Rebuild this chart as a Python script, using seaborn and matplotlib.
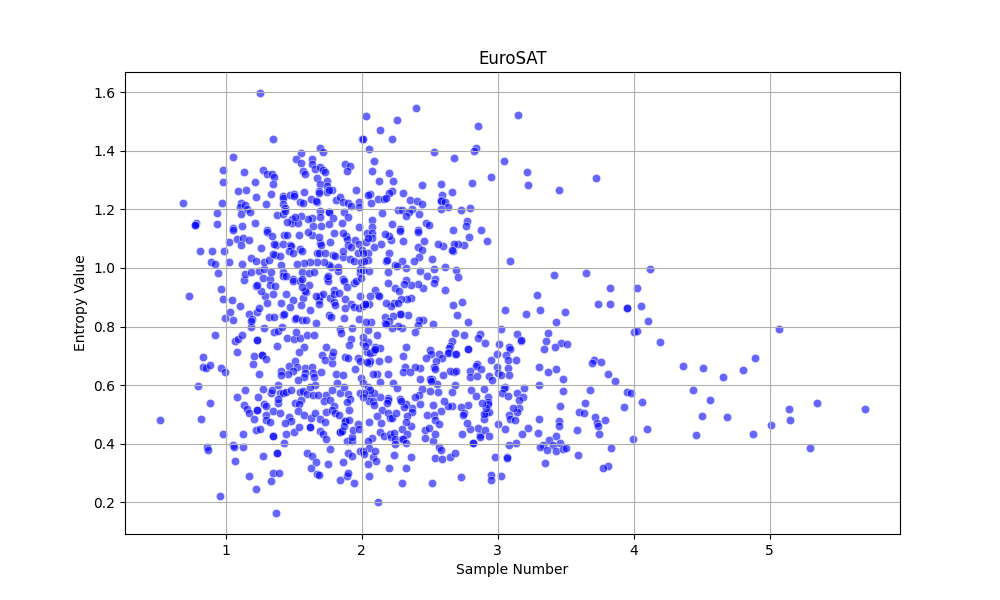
import matplotlib
matplotlib.use("Agg")
import matplotlib.pyplot as plt
import pandas as pd
import seaborn as sns

# (sample number, entropy value), region by region
top_left = [
    (1.255,1.597),(1.35,1.44),(1.056,1.378),(0.985,1.334),(1.137,1.327),(0.985,1.293),(1.277,1.334),(1.306,1.32),
    (1.338,1.32),(1.353,1.31),(1.218,1.293),(1.346,1.286),(1.093,1.262),(1.152,1.266),(1.336,1.252),(1.225,1.242),
    (0.689,1.222),(0.975,1.222),(1.299,1.218),(1.115,1.222),(1.103,1.208),(1.145,1.215),(1.16,1.201),(1.115,1.184),
    (1.181,1.191),(0.934,1.187),(0.782,1.153),(0.777,1.148),(0.777,1.148),(0.939,1.15),(1.056,1.136),(1.123,1.143),
    (1.218,1.153),(1.306,1.13),(1.419,1.244),(1.419,1.24),(1.473,1.249),(1.505,1.252),(1.505,1.245),(1.578,1.259),
    (1.419,1.218),(1.439,1.205),(1.382,1.181),(1.426,1.184),(1.439,1.193),(1.551,1.225),(1.566,1.222),(1.625,1.235),
    (1.669,1.225),(1.662,1.228),(1.691,1.194),(1.696,1.174),(1.757,1.191),(1.757,1.19),(1.814,1.232),(1.843,1.242),
    (1.865,1.225),(1.9,1.222),(1.924,1.213),(1.983,1.225),(1.983,1.208),(1.873,1.191),(1.897,1.174),
    (1.789,1.17),(1.853,1.153),(1.757,1.15),(1.637,1.17),(1.608,1.167),(1.556,1.177),(1.49,1.167),(1.49,1.153),
    (1.534,1.153),(1.512,1.174),(1.449,1.157),(1.645,1.143),(1.703,1.143),(1.983,1.14),(1.556,1.392),(1.696,1.409),
    (1.718,1.395),(1.52,1.372),(1.556,1.358),(1.637,1.372),(1.637,1.355),(1.571,1.331),(1.586,1.32),(1.659,1.337),
    (1.691,1.344),(1.718,1.334),(1.733,1.327),(1.676,1.307),(1.748,1.297),(1.696,1.286),(1.748,1.28),(1.684,1.262),
    (1.689,1.256),(1.748,1.259),(1.784,1.266),(1.762,1.266),(1.88,1.355),(1.917,1.348),(1.895,1.331),(1.961,1.266),
    (2.005,1.441),(2.007,1.441),(2.03,1.518),(2.056,1.406),
]

top_right = [
    (2.397,1.545),(2.257,1.505),(2.132,1.47),(2.221,1.44),(2.088,1.365),(2.074,1.331),(2.199,1.324),(2.125,1.297),
    (2.228,1.297),(2.532,1.395),(2.676,1.375),(2.838,1.41),(2.824,1.399),(2.853,1.484),(3.147,1.522),(3.044,1.365),
    (3.216,1.327),(3.221,1.283),(3.449,1.266),(3.721,1.307),(2.949,1.31),(2.809,1.29),(2.441,1.283),(2.581,1.286),
    (2.664,1.259),(2.301,1.256),(2.588,1.249),(2.581,1.232),(2.581,1.23),(2.61,1.225),(2.632,1.209),(2.581,1.201),
    (2.353,1.232),(2.404,1.228),(2.441,1.218),(2.221,1.262),(2.199,1.256),(2.059,1.252),(2.044,1.249),(2.066,1.222),
    (2.118,1.235),(2.162,1.235),(2.176,1.239),(2.265,1.198),(2.294,1.198),(2.368,1.201),(2.346,1.191),(2.324,1.177),
    (2.419,1.184),(2.147,1.187),(2.074,1.164),(2.074,1.14),(2.221,1.15),(2.279,1.133),(2.471,1.153),(2.493,1.148),
    (2.412,1.13),(2.728,1.198),(2.794,1.205),(2.772,1.161),(2.765,1.142),(2.669,1.13),(2.875,1.13),
]

middle_left = [
    (0.733,0.905),(0.814,1.058),(0.902,1.058),(0.99,1.058),(0.895,1.02),(0.924,1.014),(1.027,1.02),(0.946,0.983),
    (0.968,0.928),(0.983,0.894),(1.049,0.891),(1.034,0.85),(1.108,0.87),(0.998,0.83),(1.056,0.823),(0.924,0.772),
    (1.071,0.751),(1.093,0.758),(1.123,0.772),(1.086,0.714),(0.836,0.697),(0.968,0.659),(0.998,0.645),(0.836,0.663),
    (0.858,0.659),(0.887,0.669),(1.211,0.7),(1.27,0.703),(1.27,0.703),(1.299,0.69),(1.203,0.673),(1.248,0.639),
    (1.233,0.755),(1.233,0.755),(1.38,0.734),(1.189,0.799),(1.284,0.795),(1.358,0.782),(1.387,0.785),(1.417,0.799),
    (1.453,0.761),(1.505,0.758),(1.549,0.761),(1.52,0.782),(1.6,0.772),(1.652,0.772),(1.578,0.731),(1.542,0.714),
    (1.74,0.731),(1.711,0.703),(1.733,0.686),(1.784,0.676),(1.784,0.7),(1.792,0.714),(1.838,0.792),(1.85,0.778),
    (1.931,0.795),(1.924,0.758),(1.909,0.737),(2.012,0.744),(1.88,0.697),
    (1.902,0.693),(1.975,0.693),(1.99,0.683),(2.042,0.714),(2.056,0.676),(1.953,0.656),(1.998,0.625),(1.409,0.649),
    (1.468,0.666),(1.512,0.683),(1.527,0.663),(1.498,0.649),(1.461,0.639),(1.409,0.635),(1.586,0.659),(1.586,0.642),
    (1.637,0.663),(1.645,0.642),(1.703,0.645),(1.578,0.628),(1.652,0.628),(1.814,0.639),(1.865,0.635),(1.174,0.843),
    (1.233,0.85),(1.196,0.826),(1.189,0.819),(1.248,0.864),(1.321,0.833),(1.358,0.833),(1.424,0.84),(1.431,0.843),
    (1.512,0.826),(1.52,0.83),(1.564,0.823),(1.593,0.823),(1.667,0.812),(1.762,0.84),(1.777,0.833),(1.873,0.83),
    (1.983,0.826),(1.292,0.905),(1.262,0.922),(1.225,0.939),(1.233,0.942),(1.277,0.966),(1.328,0.963),
    (1.326,0.942),(1.365,0.939),(1.35,0.911),(1.137,0.959),(1.145,0.98),(1.189,0.986),(1.248,0.99),(1.284,0.997),
    (1.336,0.986),(1.306,0.881),(1.409,0.881),(1.446,0.911),(1.498,0.891),(1.475,0.867),(1.571,0.898),(1.556,0.874),
    (1.623,0.857),(1.593,0.918),(1.696,0.905),(1.718,0.911),(1.689,0.891),(1.689,0.877),(1.667,0.905),(1.77,0.898),
    (1.799,0.925),(1.799,0.911),(1.799,0.884),(1.806,0.874),(1.836,0.915),(1.88,0.894),(1.88,0.864),(1.924,0.877),
    (1.946,0.867),(1.983,0.864),(2.012,0.87),(2.056,0.877),(1.99,0.905),(1.424,0.986),(1.424,0.973),
    (1.446,0.973),(1.498,0.963),(1.498,0.956),(1.549,0.956),(1.564,0.986),(1.564,0.963),(1.615,0.983),(1.652,0.986),
    (1.615,0.942),(1.586,0.922),(1.564,0.935),(1.748,0.966),(1.755,0.956),(1.755,0.973),(1.828,0.99),(1.865,0.963),
    (1.873,0.956),(1.895,0.935),(1.946,0.949),(1.961,0.956),(1.99,0.983),(1.777,1.003),(1.762,1.01),(1.828,1.003),
    (1.725,1.02),(1.674,1.02),(1.623,1.02),(1.578,1.017),(1.527,1.014),(1.409,1.01),(1.123,1.014),(1.189,1.034),
    (1.225,1.024),(1.284,1.02),(1.321,1.027),(1.365,1.044),(1.402,1.041),(1.35,1.048),(1.373,1.078),(1.353,1.082),
    (1.424,1.082),(1.431,1.112),(1.453,1.112),(1.475,1.078),(1.483,1.075),(1.549,1.065),(1.564,1.058),(1.468,1.058),
    (1.498,1.051),(1.542,1.112),(1.262,1.068),(1.027,1.089),(1.086,1.099),(1.13,1.102),(1.174,1.095),(1.115,1.078),
    (1.674,1.051),(1.689,1.051),(1.733,1.051),(1.792,1.044),(1.806,1.041),(1.865,1.038),(1.917,1.031),(1.946,1.024),
    (1.975,1.051),(1.865,1.058),(1.696,1.085),(1.703,1.078),(1.77,1.089),(1.637,1.112),(1.608,1.123),(1.689,1.106),
    (1.799,1.119),(1.887,1.109),(1.895,1.099),(1.953,1.095),(1.902,1.078),(1.924,1.071),(1.865,1.119),(1.983,1.082),
    (2.042,1.119),(1.99,0.997),(1.998,1.02),(2.005,1.061),(2.049,1.051),(1.306,1.123),
    (1.343,1.109),(1.056,1.13),
]

middle_right = [
    (2.279,1.127),(2.412,1.123),(2.787,1.106),(2.919,1.092),(2.75,1.078),(2.706,1.083),(2.676,1.082),(2.596,1.074),
    (2.559,1.082),(2.669,1.058),(2.664,1.06),(2.456,1.092),(2.412,1.072),(2.441,1.06),(2.301,1.092),(2.419,1.038),
    (2.382,1.024),(2.515,1.031),(2.61,1.003),(2.532,0.997),(2.691,0.993),(2.706,0.969),(2.426,0.99),(2.478,0.973),
    (2.537,0.963),(2.529,0.949),(2.61,0.925),(2.449,0.932),(2.412,0.945),(2.36,0.942),(2.324,0.959),(2.309,0.945),
    (2.294,1.024),(2.243,1.01),(2.257,1.007),(2.324,1.0),(2.199,1.051),(2.176,1.024),(2.184,1.027),(2.196,0.986),
    (2.191,0.949),(2.243,0.932),(2.272,0.922),(2.096,0.925),(2.118,0.908),(2.125,0.906),(2.059,0.905),(2.36,0.898),
    (2.331,0.894),(2.287,0.894),(2.235,0.881),(2.213,0.87),(2.176,0.881),(2.265,0.881),(2.025,0.877),(2.025,0.877),
    (2.672,0.874),(2.735,0.884),(2.699,0.84),(2.779,0.816),(3.088,1.024),(3.412,0.976),(3.647,0.983),(3.287,0.908),
    (3.735,0.877),(3.051,0.857),(3.206,0.843),(3.309,0.857),(3.493,0.85),(3.426,0.816),(3.022,0.792),(3.14,0.775),
    (3.169,0.751),(3.169,0.755),(3.368,0.778),(3.353,0.751),(3.463,0.744),(3.507,0.741),(3.419,0.731),(3.338,0.724),
    (2.868,0.775),(2.853,0.761),(2.904,0.744),(2.75,0.772),(2.684,0.778),(3.007,0.741),(3.081,0.731),(3.088,0.724),
    (2.522,0.809),(2.449,0.823),(2.419,0.823),(2.412,0.806),(2.338,0.84),(2.287,0.843),(2.279,0.843),(2.228,0.836),
    (2.169,0.833),(2.39,0.782),(2.294,0.795),(2.265,0.802),(2.221,0.795),(2.199,0.819),(2.169,0.812),(2.176,0.809),
    (2.066,0.816),(2.029,0.816),(2.044,0.789),(2.11,0.772),(2.044,0.748),(2.025,0.733),(2.007,0.765),(2.096,0.731),
    (2.132,0.727),(2.081,0.714),(2.059,0.71),(2.088,0.72),(2.096,0.725),(2.324,0.731),(2.301,0.7),(2.191,0.69),
    (2.125,0.683),(2.059,0.683),(2.037,0.68),(2.662,0.751),(2.647,0.734),(2.64,0.727),(2.64,0.714),(2.632,0.71),
    (2.5,0.72),(2.507,0.707),(2.471,0.693),(2.566,0.707),(2.588,0.693),(2.544,0.683),(2.684,0.707),(2.691,0.707),
    (2.779,0.724),(2.779,0.724),(2.993,0.707),(2.949,0.686),(3.059,0.703),(3.074,0.686),(3.132,0.686),(2.993,0.663),
    (3.074,0.659),(3.301,0.663),(3.426,0.656),(3.368,0.645),(3.706,0.686),(3.691,0.676),(2.846,0.673),(2.838,0.666),
    (2.875,0.656),(2.794,0.649),(2.794,0.628),(2.846,0.632),(2.934,0.632),(3.0,0.642),(3.022,0.635),(3.081,0.635),
    (3.478,0.62),(2.676,0.645),(2.647,0.649),(2.691,0.649),(2.596,0.635),(2.529,0.663),(2.537,0.656),(2.426,0.659),
    (2.39,0.663),(2.316,0.663),(2.301,0.645),(2.353,0.645),(2.191,0.639),(2.11,0.639),(2.081,0.639),(2.426,0.622),
    (2.515,0.622),(2.5,0.622),(2.074,1.119),(2.029,1.089),(2.074,1.102),(2.14,1.082),(2.213,1.095),(2.199,1.109),
    (2.169,1.116),(2.044,1.102),(2.088,1.072),(2.007,1.051),(2.044,1.027),(2.015,1.024),(2.007,0.993),(2.051,0.99),
    (1.993,0.966),
]

bottom_left = [
    (0.799,0.597),(0.52,0.481),(0.821,0.484),(0.887,0.539),(0.983,0.433),(0.865,0.389),(0.873,0.378),(1.056,0.395),
    (1.064,0.389),(1.13,0.389),(1.13,0.433),(1.071,0.341),(1.277,0.358),(1.174,0.29),(1.35,0.3),(1.395,0.3),
    (1.336,0.273),(1.225,0.245),(0.961,0.222),(1.373,0.164),(1.375,0.37),(1.375,0.37),(1.431,0.402),(1.35,0.426),
    (1.35,0.426),(1.225,0.447),(1.255,0.45),(1.446,0.433),(1.505,0.44),(1.542,0.457),(1.623,0.457),(1.623,0.457),
    (1.696,0.443),(1.718,0.433),(1.74,0.416),(1.6,0.368),(1.637,0.358),(1.667,0.337),(1.63,0.317),(1.77,0.382),
    (1.755,0.331),(1.674,0.297),(1.689,0.293),(1.843,0.276),(1.895,0.29),(1.902,0.3),(1.946,0.266),(1.865,0.337),
    (1.902,0.368),(1.931,0.358),(1.99,0.375),(1.843,0.44),
    (1.843,0.44),(1.858,0.443),(1.895,0.409),(1.931,0.409),(1.931,0.423),(1.88,0.477),(1.88,0.477),(1.873,0.46),
    (1.909,0.481),(1.939,0.447),(1.975,0.467),(1.983,0.45),(1.086,0.559),(1.145,0.583),
    (1.137,0.532),(1.159,0.518),(1.174,0.505),(1.211,0.484),(1.24,0.559),(1.277,0.586),(1.284,0.535),(1.299,0.528),
    (1.228,0.515),(1.228,0.515),(1.35,0.511),(1.387,0.539),(1.402,0.505),(1.299,0.498),(1.299,0.481),(1.328,0.474),
    (1.336,0.573),(1.343,0.583),(1.387,0.6),(1.402,0.573),(1.424,0.573),(1.446,0.576),(1.483,0.583),(1.387,0.552),
    (1.534,0.618),(1.546,0.576),(1.571,0.58),(1.6,0.569),(1.645,0.566),(1.681,0.566),(1.512,0.539),(1.556,0.549),
    (1.542,0.535),(1.534,0.511),(1.468,0.491),(1.483,0.477),(1.436,0.47),(1.578,0.498),(1.63,0.487),(1.659,0.505),
    (1.696,0.484),(1.733,0.474),(1.74,0.566),(1.725,0.545),(1.77,0.549),(1.799,0.528),(1.74,0.508),(1.784,0.515),
    (1.806,0.505),(1.836,0.498),(1.784,0.583),(1.816,0.607),(1.843,0.573),(1.873,0.593),(1.902,0.569),(1.917,0.552),
    (1.895,0.542),(1.909,0.515),(1.99,0.573),(2.012,0.607),(2.056,0.566),(2.056,0.545),(1.659,0.6),
    (1.62,0.595),
]

bottom_right = [
    (2.132,0.61),(2.228,0.607),(2.257,0.59),(2.441,0.586),(2.5,0.58),(2.559,0.576),(2.551,0.603),(2.507,0.613),
    (2.684,0.6),(2.662,0.576),(2.801,0.583),(2.838,0.562),(2.897,0.586),(2.956,0.617),(3.051,0.593),(3.044,0.59),
    (3.029,0.573),(3.074,0.562),(3.14,0.573),(3.184,0.559),(3.191,0.59),(3.301,0.6),(3.478,0.58),(3.676,0.583),
    (3.154,0.549),(3.154,0.522),(3.14,0.508),(3.11,0.522),(3.081,0.498),(3.088,0.484),(3.125,0.481),(3.0,0.467),
    (3.051,0.45),(3.176,0.433),(3.221,0.453),(3.132,0.402),(3.081,0.395),(3.301,0.484),(3.294,0.436),(3.456,0.528),
    (3.64,0.539),(3.596,0.508),(3.632,0.505),(3.449,0.477),(3.449,0.46),(3.581,0.447),(3.716,0.491),(3.73,0.47),
    (3.737,0.46),(3.743,0.433),(3.426,0.426),(3.375,0.413),(3.331,0.395),(3.309,0.389),(3.404,0.395),(3.456,0.402),
    (3.36,0.378),(3.426,0.375),(3.478,0.382),(3.5,0.385),(3.588,0.361),(3.346,0.334),(2.978,0.355),(3.066,0.355),
    (3.066,0.351),(2.949,0.293),(2.949,0.276),(3.022,0.29),(2.728,0.286),(2.515,0.266),(2.294,0.266),(2.199,0.317),
    (2.324,0.317),(2.051,0.29),(2.118,0.201),(2.044,0.331),(2.081,0.355),(2.103,0.341),(2.235,0.361),(2.36,0.355),
    (2.537,0.351),(2.588,0.348),(2.647,0.355),(2.684,0.368),(2.566,0.389),(2.581,0.378),(2.522,0.409),(2.463,0.419),
    (2.463,0.447),(2.493,0.453),(2.537,0.433),(2.735,0.433),(2.816,0.402),(2.816,0.402),(2.868,0.43),(2.868,0.423),
    (2.853,0.453),(2.904,0.447),(2.934,0.426),(2.794,0.45),(2.772,0.47),(2.897,0.484),(2.912,0.505),(2.934,0.508),
    (2.897,0.501),(2.926,0.559),(2.926,0.542),(2.926,0.535),(2.912,0.522),(2.882,0.539),(2.779,0.532),(2.728,0.525),
    (2.75,0.505),(2.743,0.498),(2.662,0.528),(2.632,0.528),(2.603,0.545),(2.581,0.511),(2.522,0.532),(2.478,0.498),
    (2.529,0.498),(2.537,0.481),(2.566,0.467),(2.426,0.535),(2.419,0.566),(2.39,0.559),(2.368,0.522),(2.368,0.508),
    (2.36,0.46),(2.324,0.535),(2.309,0.525),(2.331,0.494),(2.324,0.474),(2.279,0.552),(2.287,0.545),(2.191,0.556),
    (2.191,0.549),(2.184,0.539),(2.132,0.559),(2.147,0.515),(2.11,0.494),(2.191,0.505),(2.206,0.487),(2.221,0.487),
    (2.25,0.505),(2.14,0.47),(2.051,0.474),(2.294,0.45),(2.331,0.433),(2.132,0.44),(2.162,0.426),(2.206,0.433),
    (2.213,0.423),(2.235,0.436),(2.243,0.416),(2.294,0.416),(2.301,0.416),(2.324,0.402),(2.243,0.399),(2.074,0.419),
    (2.044,0.409),(2.051,0.385),(2.096,0.375),(2.007,0.375),(2.015,0.365),(2.088,0.573),(2.081,0.545),(2.088,0.532),
    (2.044,0.593),(2.059,0.583),(2.015,0.573),(2.007,0.559),
]

far_right = [
    (4.118,0.997),(3.824,0.932),(4.022,0.932),(3.824,0.877),(3.949,0.865),(3.952,0.862),(4.051,0.87),
    (4.103,0.819),(4.0,0.782),(4.025,0.785),(4.191,0.748),(5.066,0.792),(4.89,0.693),(4.801,0.652),(4.654,0.628),
    (4.507,0.659),(4.36,0.666),(3.762,0.68),(3.809,0.639),(3.86,0.615),(4.434,0.584),(4.559,0.55),(3.949,0.578),
    (3.978,0.575),(4.059,0.543),(3.926,0.526),(4.5,0.494),(4.684,0.491),(5.346,0.539),(5.145,0.519),(5.152,0.482),
    (5.699,0.519),(5.007,0.465),(4.875,0.434),(4.456,0.43),(4.096,0.45),(3.993,0.416),(3.787,0.481),
    (3.831,0.386),(3.809,0.325),(3.772,0.318),(5.294,0.386),
]

points = top_left + top_right + middle_left + middle_right + bottom_left + bottom_right + far_right
df = pd.DataFrame(points, columns=["Sample Number", "Entropy Value"])

plt.figure(figsize=(10, 6))
sns.scatterplot(data=df, x="Sample Number", y="Entropy Value", color="blue", alpha=0.6)
plt.title("EuroSAT")
plt.xlabel("Sample Number")
plt.ylabel("Entropy Value")
plt.grid(True)
plt.savefig("out.png", dpi=100)
